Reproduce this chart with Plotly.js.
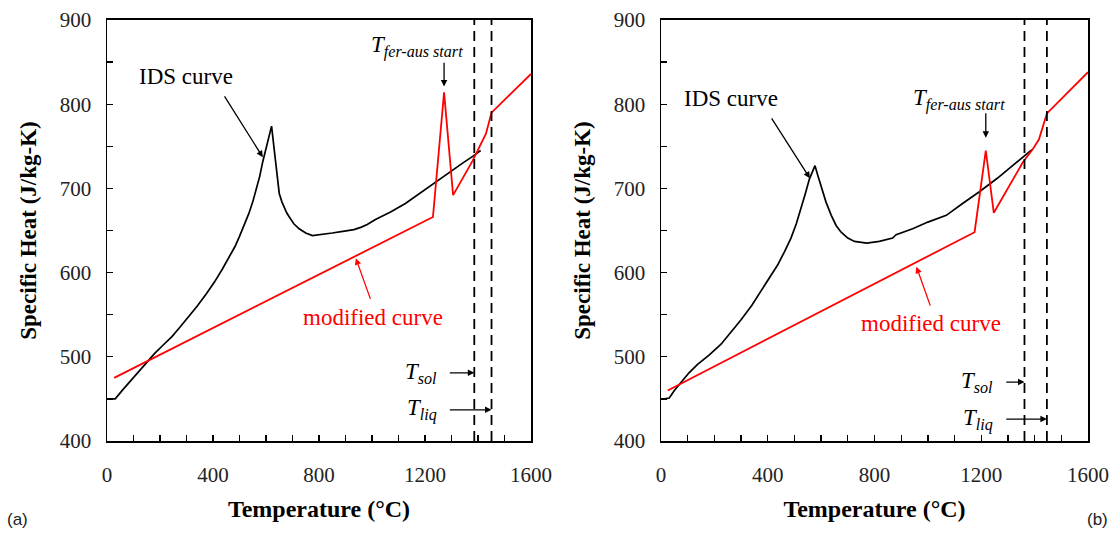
<!DOCTYPE html>
<html>
<head>
<meta charset="utf-8">
<script src="https://cdn.plot.ly/plotly-3.0.1.min.js"></script>
<style>html,body{margin:0;padding:0;background:#fff;}#chart{width:1113px;height:533px;}</style>
</head>
<body>
<div id="chart"></div>
<script>
// ---- Panel (a) data ----
const idsA_T = [12,31,60,90,120,150,180,212,245,275,310,340,375,406,435,463,483,500,518,535,550,563,576,588,605,621,635,650,660,668,678,688,705,725,750,775,810,850,890,932,960,982,1013,1070,1126,1180,1226,1290,1342,1380,1410];
const idsA_cp = [450,450,461,472,483,494,504,514,524,535,548,560,575,589,604,619,631,643,656,670,684,698,714,732,753,774,735,694,684,678,671,666,658,652,647,644,645,647,649,651,654,657,663,672,682,694,705,719,730,738,745];
const modA_T = [27,1230,1272,1306,1380,1415,1430,1451,1600];
const modA_cp = [475,666,814,692,733,755,765,790,836];
const solA = 1386, liqA = 1451;

// ---- Panel (b) data ----
const idsB_T = [12,31,50,75,105,137,180,225,262,300,340,375,407,437,463,487,507,525,541,556,577,588,600,618,638,656,675,700,725,771,818,868,881,943,1000,1069,1130,1193,1260,1318,1356,1390];
const idsB_cp = [450,451,460,470,481,491,502,515,529,544,561,578,594,609,625,641,658,676,694,711,727,715,703,684,668,656,648,641,637,635,637,641,645,652,660,668,682,696,712,727,737,746];
const modB_T = [25,1175,1217,1247,1356,1394,1416,1446,1600];
const modB_cp = [460,648,745,671,731,747,758,789,838];
const solB = 1362, liqB = 1446;

const xTicks = [0,400,800,1200,1600];
const yTicks = [400,500,600,700,800,900];
const yRange = [400,900];

const serif = "'Liberation Serif', 'DejaVu Serif', serif";
const sans = "'Liberation Sans', Arial, sans-serif";

function line(x,y,xa,ya,color,w,dash){
  return {x:x,y:y,xaxis:xa,yaxis:ya,type:'scatter',mode:'lines',
    line:{color:color,width:w,dash:dash||'solid'},hoverinfo:'skip',showlegend:false};
}

const traces = [
  line(idsA_T,idsA_cp,'x','y','#000',1.7),
  line(modA_T,modA_cp,'x','y','#ff0000',1.8),
  line([solA,solA],yRange,'x','y','#000',1.8,'10px,6px'),
  line([liqA,liqA],yRange,'x','y','#000',1.8,'10px,6px'),
  line(idsB_T,idsB_cp,'x2','y2','#000',1.7),
  line(modB_T,modB_cp,'x2','y2','#ff0000',1.8),
  line([solB,solB],yRange,'x2','y2','#000',1.8,'10px,6px'),
  line([liqB,liqB],yRange,'x2','y2','#000',1.8,'10px,6px')
];

function xaxisDef(domain, anchor){
  return {domain:domain, anchor:anchor, range:[0,1600], tickvals:xTicks, ticktext:xTicks.map(String),
    showline:true, linecolor:'#000', linewidth:1.5, mirror:true, showgrid:false, zeroline:false,
    ticks:'inside', ticklen:6, tickwidth:1.3, tickcolor:'#000',
    minor:{dtick:100, tick0:0, ticks:'inside', ticklen:6, tickwidth:1.3, tickcolor:'#000', showgrid:false},
    tickfont:{family:serif, size:21, color:'#222'}, ticklabelstandoff:14,
    title:{text:'<b>Temperature (°C)</b>', font:{family:serif, size:24, color:'#000'}, standoff:14},
    automargin:false, fixedrange:true};
}
function yaxisDef(anchor){
  return {domain:[0.1726,0.9625], anchor:anchor, range:yRange, tickvals:yTicks, ticktext:yTicks.map(String),
    showline:true, linecolor:'#000', linewidth:1.5, mirror:true, showgrid:false, zeroline:false,
    ticks:'inside', ticklen:6, tickwidth:1.3, tickcolor:'#000',
    minor:{dtick:50, tick0:400, ticks:'inside', ticklen:6, tickwidth:1.3, tickcolor:'#000', showgrid:false},
    tickfont:{family:serif, size:21, color:'#222'}, ticklabelstandoff:10,
    title:{text:'<b>Specific Heat (J/kg-K)</b>', font:{family:serif, size:23, color:'#000'}, standoff:16},
    automargin:false, fixedrange:true};
}

function txt(xr,yr,x,y,t,color,size,anchor){
  return {xref:xr,yref:yr,x:x,y:y,text:t,showarrow:false,xanchor:anchor||'center',yanchor:'middle',
    font:{family:serif,size:size||23,color:color||'#000'}};
}
function arr(xr,yr,x0,y0,x1,y1,color){
  return {xref:xr,yref:yr,axref:xr,ayref:yr,x:x1,y:y1,ax:x0,ay:y0,text:'',showarrow:true,
    arrowhead:2,arrowsize:1,arrowwidth:1.3,arrowcolor:color||'#000',standoff:0,startstandoff:0};
}
const Tfer = '<i>T</i><sub><i>fer-aus start</i></sub>';
const Tsol = '<i>T</i><sub><i>sol</i></sub>';
const Tliq = '<i>T</i><sub><i>liq</i></sub>';

const annotations = [
  // panel a
  txt('x','y',298,833,'IDS curve'),
  arr('x','y',440,811,588,737),
  txt('x','y',1004,547,'modified curve','#ff0000'),
  arr('x','y',996,567,939,617,'#ff0000'),
  txt('x','y',1168,868,Tfer),
  arr('x','y',1272,851,1272,821),
  txt('x','y',1252,481,Tsol,'#000',23,'right'),
  arr('x','y',1288,481,solA,481),
  txt('x','y',1252,438,Tliq,'#000',23,'right'),
  arr('x','y',1288,437,liqA,437),
  // panel b
  txt('x2','y2',264,807,'IDS curve'),
  arr('x2','y2',411,785,558,712),
  txt('x2','y2',1013,539,'modified curve','#ff0000'),
  arr('x2','y2',1011,559,957,607,'#ff0000'),
  txt('x2','y2',1115,805,Tfer),
  arr('x2','y2',1217,791,1217,760),
  txt('x2','y2',1251,470,Tsol,'#000',23,'right'),
  arr('x2','y2',1288,470,solB,470),
  txt('x2','y2',1251,426,Tliq,'#000',23,'right'),
  arr('x2','y2',1288,426,liqB,426),
  // panel letters
  {xref:'paper',yref:'paper',x:5/1113,y:1-519/533,text:'(a)',showarrow:false,xanchor:'left',yanchor:'middle',
    font:{family:sans,size:17,color:'#222'}},
  {xref:'paper',yref:'paper',x:1110/1113,y:1-519/533,text:'(b)',showarrow:false,xanchor:'right',yanchor:'middle',
    font:{family:sans,size:17,color:'#222'}}
];

const layout = {
  width:1113, height:533,
  margin:{l:0,r:0,t:0,b:0},
  paper_bgcolor:'#fff', plot_bgcolor:'#fff',
  showlegend:false,
  font:{family:serif},
  xaxis: xaxisDef([107/1113, 531/1113],'y'),
  yaxis: yaxisDef('x'),
  xaxis2: xaxisDef([661/1113, 1088/1113],'y2'),
  yaxis2: yaxisDef('x2'),
  annotations: annotations
};

Plotly.newPlot('chart', traces, layout, {staticPlot:true, displayModeBar:false});
</script>
</body>
</html>
